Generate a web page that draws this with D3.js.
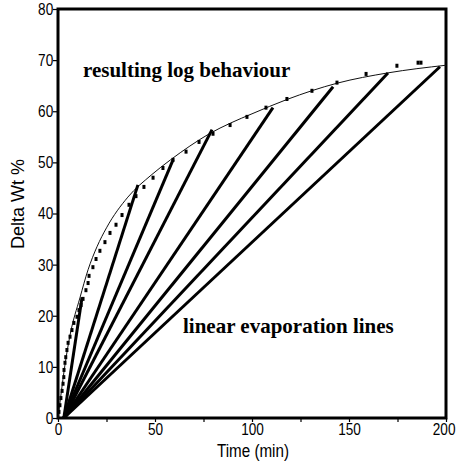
<!DOCTYPE html>
<html><head><meta charset="utf-8">
<script src="https://cdn.jsdelivr.net/npm/d3@7/dist/d3.min.js"></script>
<style>body{margin:0;background:#fff}svg{display:block}</style>
</head><body><svg id="c" width="456" height="464"></svg>
<script>
// measured data points (squares)
const squareTimes  = [0.5,1.0,1.5,2.1,2.6,3.0,3.1,3.6,4.0,4.6,5.2,6.2,7.2,8.2,9.8,10.8,11.9,12.9,14.4,15.5,16.0,18.0,19.6,21.6,24.2,26.8,29.9,33.0,36.6,40.2,44.3,49.0,54.1,59.3,66.0,72.7,79.9,88.7,97.4,107.2,118.0,130.9,143.8,158.8,174.7,185.6,187.1];
const squareValues = [1.2,2.5,3.9,5.3,6.7,8.0,9.4,10.8,11.9,13.3,14.7,15.9,17.2,18.6,19.8,21.1,22.1,23.3,25.0,26.4,27.8,29.5,31.1,32.7,34.4,36.2,37.8,39.7,41.7,43.4,45.2,47.0,48.9,50.5,52.1,54.0,55.6,57.3,58.9,60.7,62.4,64.0,65.6,67.3,68.9,69.5,69.5];
// fitted log curve
const curveTimes  = [0,1.5,3.6,6.2,11.3,15.5,20.1,25,36,48,58,68,78,89,100,118,144,170,200];
const curveValues = [0,4.5,10.4,16.2,23.5,29.0,33.5,37.2,43.2,47.5,50.5,53.2,55.6,57.7,59.5,62.3,65.5,67.5,69.0];
// linear evaporation lines
const lineStartTimes = [3,3,3,3,3,3,3,3];
const lineEndTimes   = [12.4,41.2,59.3,79.4,110.8,141.8,170.1,196.9];
const lineEndValues  = [23.6,45.6,50.5,56.4,60.7,64.8,67.5,68.7];
const xTickLabels = [0,50,100,150,200];
const xMinorTicks = [0,25,50,75,100,125,150,175,200];
const yTickLabels = [0,10,20,30,40,50,60,70,80];

const svg = d3.select('#c');
const x = d3.scaleLinear().domain([0,200]).range([58,446]);
const y = d3.scaleLinear().domain([0,80]).range([418,9]);
const sans = '"Liberation Sans",Arial,sans-serif';
const squeeze = 'scale(0.8,1)';

// axes
const xAxis = d3.axisBottom(x).tickValues(xMinorTicks).tickSize(4).tickFormat(d => xTickLabels.includes(d) ? d : '');
const gx = svg.append('g').attr('transform','translate(0,418)').call(xAxis);
gx.select('.domain').remove();
gx.selectAll('text').attr('font-family',sans).attr('font-size',17).attr('fill','#000')
  .attr('dy','0.72em').attr('y',5).attr('dx',d => d===200 ? -3 : 0).attr('transform',squeeze);
gx.selectAll('line').attr('stroke','#000').attr('stroke-width',1.2);

const yAxis = d3.axisLeft(y).tickValues(yTickLabels).tickSize(5).tickPadding(1);
const gy = svg.append('g').attr('transform','translate(58,0)').call(yAxis);
gy.select('.domain').remove();
gy.selectAll('text').attr('font-family',sans).attr('font-size',17).attr('fill','#000').attr('transform',squeeze);
gy.selectAll('line').attr('stroke','#000').attr('stroke-width',1.2);

// frame
svg.append('rect').attr('x',x(0)).attr('y',y(80)).attr('width',x(200)-x(0)).attr('height',y(0)-y(80))
  .attr('fill','none').attr('stroke','#000').attr('stroke-width',3);

// log curve
const curveData = curveTimes.map((t,i)=>[t,curveValues[i]]);
svg.append('path').datum(curveData)
  .attr('d', d3.line().x(d=>x(d[0])).y(d=>y(d[1])).curve(d3.curveMonotoneX))
  .attr('fill','none').attr('stroke','#111').attr('stroke-width',1);

// linear lines
svg.append('g').selectAll('line').data(lineEndTimes).join('line')
  .attr('x1',(d,i)=>x(lineStartTimes[i])).attr('y1',y(0))
  .attr('x2',d=>x(d)).attr('y2',(d,i)=>y(lineEndValues[i]))
  .attr('stroke','#000').attr('stroke-width',3).attr('stroke-linecap','butt');

// squares
svg.append('g').selectAll('rect').data(squareTimes).join('rect')
  .attr('x',d=>x(d)-1.5).attr('y',(d,i)=>y(squareValues[i])-2)
  .attr('width',3).attr('height',4).attr('fill','#000');

// annotations
const serif = '"Liberation Serif","Times New Roman",serif';
svg.append('text').attr('x',83).attr('y',77).attr('font-family',serif).attr('font-weight','bold').attr('font-size',21)
  .text('resulting log behaviour');
svg.append('text').attr('x',183).attr('y',333).attr('font-family',serif).attr('font-weight','bold').attr('font-size',21)
  .text('linear evaporation lines');

// axis titles
svg.append('text').attr('transform','translate(253,457) scale(0.8,1)').attr('text-anchor','middle').attr('font-family',sans).attr('font-size',19)
  .text('Time (min)');
svg.append('text').attr('transform','translate(24,204) rotate(-90)').attr('text-anchor','middle')
  .attr('font-family',sans).attr('font-size',18).text('Delta Wt %');
</script></body></html>
